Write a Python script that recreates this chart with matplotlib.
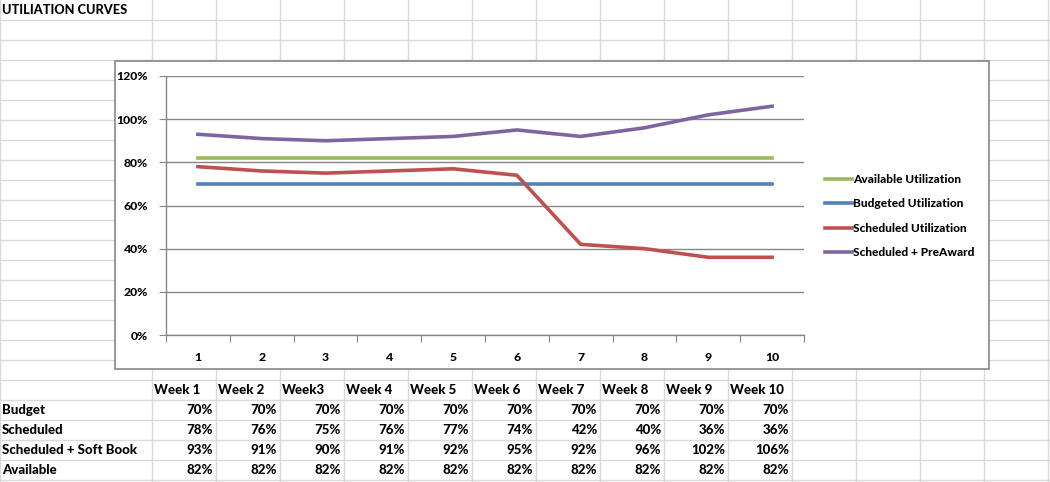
import matplotlib
matplotlib.use("Agg")
import matplotlib.pyplot as plt
from matplotlib.patches import Rectangle
from matplotlib.ticker import PercentFormatter, MultipleLocator, FixedLocator, NullFormatter

# ---- data ----
weeks = [1, 2, 3, 4, 5, 6, 7, 8, 9, 10]
week_headers = ["Week 1", "Week 2", "Week3", "Week 4", "Week 5", "Week 6",
                "Week 7", "Week 8", "Week 9", "Week 10"]
budget = [70, 70, 70, 70, 70, 70, 70, 70, 70, 70]
scheduled = [78, 76, 75, 76, 77, 74, 42, 40, 36, 36]
soft_book = [93, 91, 90, 91, 92, 95, 92, 96, 102, 106]
available = [82, 82, 82, 82, 82, 82, 82, 82, 82, 82]
row_labels = ["Budget", "Scheduled", "Scheduled + Soft Book", "Available"]
legend_labels = ["Available Utilization", "Budgeted Utilization",
                 "Scheduled Utilization", "Scheduled + PreAward"]
title = "UTILIATION CURVES"

colors = {"avail": "#9BBB59", "budget": "#4F81BD", "sched": "#C0504D", "pre": "#8064A2"}

FONT = ["Lato", "DejaVu Sans"]
WT = 900
plt.rcParams["font.family"] = FONT
W, H = 1050, 482
fig = plt.figure(figsize=(W / 100, H / 100), dpi=100)
fig.patch.set_facecolor("white")

# ---- spreadsheet background ----
bg = fig.add_axes([0, 0, 1, 1])
bg.set_xlim(0, W)
bg.set_ylim(H, 0)
bg.axis("off")
col_edges = [152 + 64 * i for i in range(15)]
row_edges = [20 * i for i in range(1, 25)]
grid_c = "#DADADA"
for x in col_edges:
    bg.plot([x, x], [0, H], color=grid_c, lw=1, zorder=0)
for y in row_edges:
    bg.plot([0, W], [y, y], color=grid_c, lw=1, zorder=0)
bg.plot([0, 0], [0, H], color=grid_c, lw=1, zorder=0)

fs = 9.5
bg.text(2, 10, title, ha="left", va="center", fontsize=fs - 0.3, fontweight=WT, color="black")

# chart box
bg.add_patch(Rectangle((115, 61), 989 - 115, 369 - 61, facecolor="white",
                       edgecolor="#868686", lw=1.2, zorder=2))

# table
for i, h in enumerate(week_headers):
    bg.text(col_edges[i] + 2, 390, h, ha="left", va="center", fontsize=fs,
            fontweight=WT, zorder=3)
table_rows = [budget, scheduled, soft_book, available]
for r, (lab, vals) in enumerate(zip(row_labels, table_rows)):
    y = 410 + 20 * r
    bg.text(2, y, lab, ha="left", va="center", fontsize=fs, fontweight=WT, zorder=3)
    for i, v in enumerate(vals):
        bg.text(col_edges[i + 1] - 3, y, f"{v}%", ha="right", va="center",
                fontsize=fs, fontweight=WT, zorder=3)

# ---- chart ----
x0, x1, y0, y1 = 166, 804, 76, 335
ax = fig.add_axes([x0 / W, 1 - y1 / H, (x1 - x0) / W, (y1 - y0) / H])
ax.set_zorder(5)
ax.patch.set_alpha(0)
lw = 2.6
l_av, = ax.plot(weeks, available, color=colors["avail"], lw=lw, zorder=3)
l_bu, = ax.plot(weeks, budget, color=colors["budget"], lw=lw, zorder=3)
l_sc, = ax.plot(weeks, scheduled, color=colors["sched"], lw=lw, zorder=3)
l_pr, = ax.plot(weeks, soft_book, color=colors["pre"], lw=lw, zorder=3)

ax.set_xlim(0.5, 10.5)
ax.set_ylim(0, 120)
ax.yaxis.set_major_locator(MultipleLocator(20))
ax.yaxis.set_major_formatter(PercentFormatter(decimals=0))
ax.grid(axis="y", color="#868686", lw=1)
ax.set_axisbelow(True)
for s in ["top", "right"]:
    ax.spines[s].set_visible(False)
for s in ["left", "bottom"]:
    ax.spines[s].set_color("#868686")
    ax.spines[s].set_linewidth(1)
ax.xaxis.set_major_locator(FixedLocator([w + 0.5 for w in range(0, 11)]))
ax.xaxis.set_major_formatter(NullFormatter())
ax.xaxis.set_minor_locator(FixedLocator(weeks))
ax.set_xticklabels([str(w) for w in weeks], minor=True)
ax.tick_params(axis="x", which="major", length=5, color="#868686", direction="out")
ax.tick_params(axis="x", which="minor", length=0, pad=12, labelsize=fs - 0.7)
ax.tick_params(axis="y", length=5, color="#868686", pad=8, labelsize=fs - 0.7)
for t in ax.get_xticklabels(minor=True) + ax.get_yticklabels():
    t.set_fontweight(WT)

leg = fig.legend([l_av, l_bu, l_sc, l_pr], legend_labels,
                 loc="upper left", bbox_to_anchor=(814 / W, 1 - 163 / H),
                 frameon=False, handlelength=2.3,
                 handletextpad=0.05, labelspacing=1.13,
                 prop={"weight": WT, "size": fs - 0.9, "family": FONT})
leg.set_zorder(6)

fig.savefig("out.png", dpi=100, facecolor="white")
